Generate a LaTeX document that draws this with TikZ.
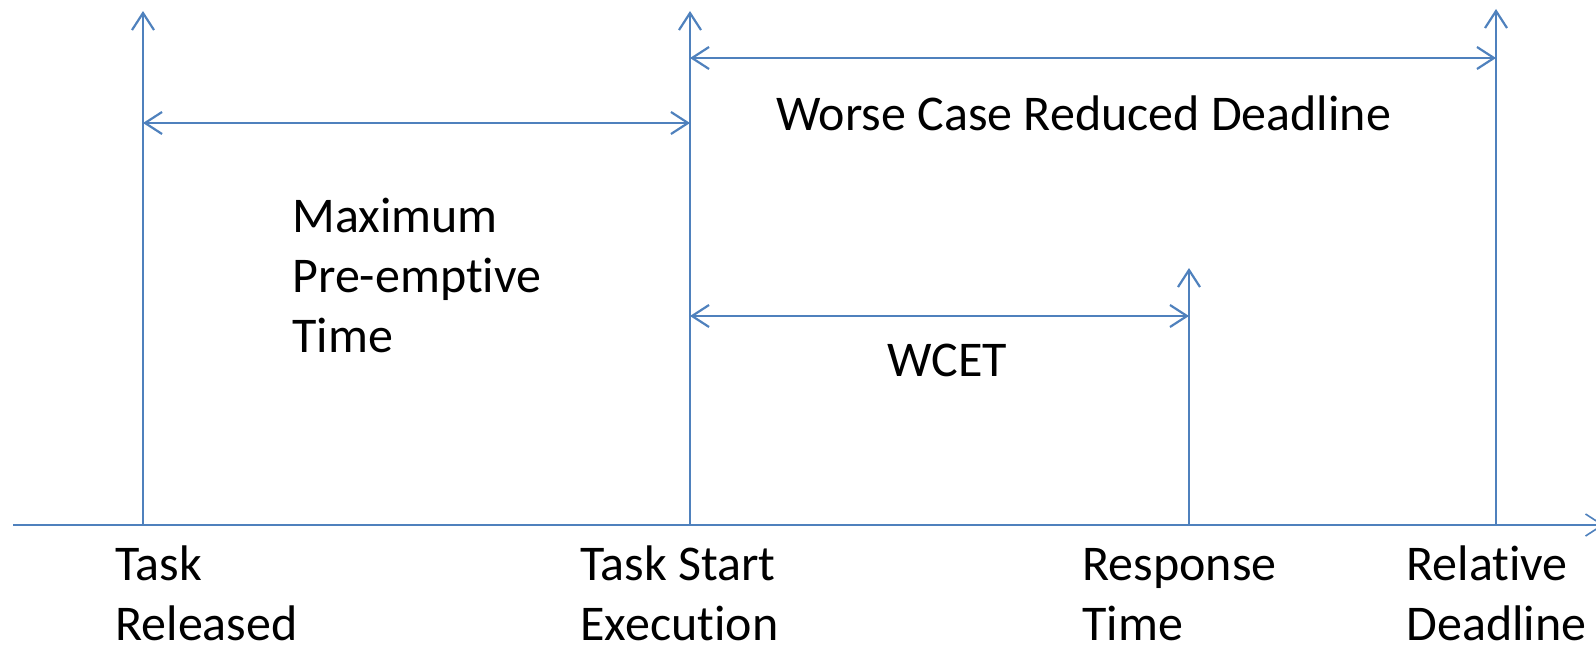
\documentclass[tikz,border=0pt]{standalone}
\usepackage{fontspec}
\setmainfont{Carlito}[Ligatures=NoCommon]
\usetikzlibrary{arrows.meta}
\definecolor{lineblue}{RGB}{79,129,189}
\begin{document}
\begin{tikzpicture}[x=0.5pt,y=-0.5pt,
  conn/.style={draw=lineblue,line width=1.1pt,-{Straight Barb[length=8.5pt,width=11pt,line width=1.1pt]}},
  dconn/.style={draw=lineblue,line width=1.1pt,{Straight Barb[length=8.5pt,width=11pt,line width=1.1pt]}-{Straight Barb[length=8.5pt,width=11pt,line width=1.1pt]}},
  axisline/.style={draw=lineblue,line width=0.8pt,-{Straight Barb[length=8.5pt,width=11pt,line width=0.8pt]}},
  lbl/.style={anchor=base west,inner sep=0pt,align=left,font=\fontsize{25}{30}\selectfont}]
\useasboundingbox (0,0) rectangle (1596,647);
% axis
\coordinate (ax0) at (13,525);
\coordinate (ax1) at (1604,525);
\draw[axisline] (ax0) -- (ax1);
% vertical markers
\coordinate (r0) at (143,525); \coordinate (r1) at (143,11);
\coordinate (s0) at (690,525); \coordinate (s1) at (690,11);
\coordinate (p0) at (1189,525); \coordinate (p1) at (1189,268);
\coordinate (d0) at (1496,525); \coordinate (d1) at (1496,9);
\draw[conn] (r0) -- (r1);
\draw[conn] (s0) -- (s1);
\draw[conn] (p0) -- (p1);
\draw[conn] (d0) -- (d1);
% interval arrows
\coordinate (m0) at (143,123); \coordinate (m1) at (690,123);
\coordinate (w0) at (690,58); \coordinate (w1) at (1496,58);
\coordinate (c0) at (690,316); \coordinate (c1) at (1189,316);
\draw[dconn] (m0) -- (m1);
\draw[dconn] (w0) -- (w1);
\draw[dconn] (c0) -- (c1);
% labels
\node[lbl] (wcrd) at (776,131) {Worse Case Reduced Deadline};
\node[lbl] (mpt) at (292,352) {Maximum\\Pre-emptive\\Time};
\node[lbl] (wcet) at (887,376) {WCET};
\node[lbl] (trel) at (115,640) {Task\\Released};
\node[lbl] (tse) at (580,640) {Task Start\\Execution};
\node[lbl] (resp) at (1082,640) {Response\\Time};
\node[lbl] (rdl) at (1406,640) {Relative\\Deadline};
\end{tikzpicture}
\end{document}
